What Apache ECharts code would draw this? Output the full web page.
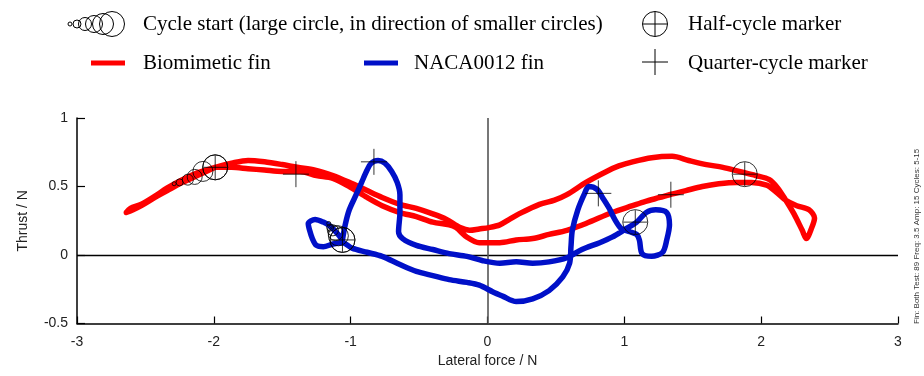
<!DOCTYPE html>
<html><head><meta charset="utf-8">
<script src="https://cdn.jsdelivr.net/npm/echarts@6/dist/echarts.min.js"></script>
<style>html,body{margin:0;padding:0;background:#fff}#c{width:924px;height:376px}</style>
</head><body><div id="c"></div>
<script>
// ---- data ----
const xRange = [-3, 3];
const yRange = [-0.5, 1];
const xStep = 1;
const yStep = 0.5;

const biomimeticFin = [
  [-1.99,0.64],[-2.12,0.58],[-2.23,0.53],[-2.34,0.47],[-2.43,0.42],[-2.53,0.36],[-2.59,0.33],[-2.64,0.31],
  [-2.61,0.34],[-2.53,0.37],[-2.43,0.43],[-2.34,0.49],[-2.23,0.55],[-2.12,0.60],[-1.99,0.64],[-1.87,0.67],
  [-1.75,0.69],[-1.63,0.68],[-1.50,0.66],[-1.39,0.64],[-1.26,0.62],[-1.13,0.58],[-1.01,0.53],[-0.88,0.47],
  [-0.77,0.42],[-0.64,0.37],[-0.52,0.34],[-0.40,0.30],[-0.30,0.26],[-0.20,0.20],[-0.13,0.18],[-0.06,0.19],
  [0.01,0.20],[0.09,0.22],[0.16,0.26],[0.23,0.30],[0.38,0.37],[0.49,0.40],[0.58,0.44],[0.72,0.53],
  [0.87,0.61],[0.96,0.65],[1.06,0.68],[1.20,0.71],[1.35,0.72],[1.47,0.69],[1.60,0.66],[1.72,0.64],
  [1.84,0.61],[1.96,0.58],[2.06,0.55],[2.12,0.49],[2.18,0.40],[2.24,0.30],[2.30,0.18],[2.33,0.12],
  [2.37,0.20],[2.39,0.27],[2.35,0.33],[2.26,0.36],[2.18,0.40],[2.11,0.46],[2.04,0.51],[1.93,0.53],
  [1.82,0.53],[1.69,0.52],[1.57,0.50],[1.45,0.47],[1.33,0.44],[1.26,0.42],[1.15,0.39],[1.06,0.36],
  [0.91,0.31],[0.72,0.23],[0.58,0.18],[0.45,0.15],[0.33,0.12],[0.21,0.11],[0.09,0.09],[-0.06,0.09],
  [-0.15,0.13],[-0.23,0.20],[-0.28,0.22],[-0.40,0.24],[-0.52,0.28],[-0.64,0.31],[-0.77,0.36],[-0.88,0.42],
  [-1.01,0.50],[-1.13,0.56],[-1.25,0.58],[-1.37,0.61],[-1.50,0.61],[-1.63,0.62],[-1.75,0.63],[-1.87,0.64],
  [-1.99,0.64]
];

const naca0012Fin = [
  [-1.06,0.11],[-1.10,0.16],[-1.15,0.21],[-1.20,0.24],[-1.26,0.26],[-1.31,0.23],[-1.30,0.18],[-1.28,0.12],
  [-1.25,0.07],[-1.20,0.06],[-1.13,0.08],[-1.06,0.09],[-0.99,0.05],[-0.88,0.02],[-0.77,-0.01],[-0.64,-0.07],
  [-0.52,-0.12],[-0.40,-0.15],[-0.28,-0.18],[-0.15,-0.20],[-0.06,-0.22],[0.04,-0.27],[0.11,-0.30],[0.21,-0.34],
  [0.33,-0.32],[0.45,-0.26],[0.55,-0.16],[0.60,-0.06],[0.61,0.06],[0.62,0.18],[0.66,0.33],[0.71,0.45],
  [0.74,0.50],[0.80,0.48],[0.84,0.42],[0.89,0.34],[0.93,0.26],[0.98,0.19],[1.04,0.17],[1.09,0.15],
  [1.11,0.11],[1.13,0.01],[1.20,-0.01],[1.28,0.02],[1.31,0.11],[1.33,0.22],[1.31,0.31],[1.23,0.33],
  [1.16,0.31],[1.09,0.24],[1.01,0.19],[0.91,0.13],[0.82,0.09],[0.69,0.04],[0.58,-0.02],[0.45,-0.05],
  [0.33,-0.06],[0.21,-0.05],[0.09,-0.06],[-0.04,-0.04],[-0.15,-0.01],[-0.28,0.01],[-0.40,0.04],[-0.52,0.07],
  [-0.62,0.12],[-0.65,0.17],[-0.64,0.31],[-0.64,0.44],[-0.66,0.53],[-0.70,0.61],[-0.75,0.67],[-0.80,0.69],
  [-0.85,0.67],[-0.88,0.62],[-0.92,0.53],[-0.96,0.44],[-1.01,0.33],[-1.04,0.22],[-1.06,0.11]
];

// cycle start circles, ordered smallest -> largest
const biomimeticStart = [[-2.29,0.52],[-2.25,0.53],[-2.19,0.55],[-2.14,0.57],[-2.08,0.61],[-1.99,0.64]];
const nacaStart = [[-1.16,0.23],[-1.15,0.20],[-1.13,0.18],[-1.11,0.16],[-1.09,0.14],[-1.06,0.11]];

const halfCycle = [[-1.99,0.64],[1.88,0.59],[-1.06,0.11],[1.08,0.24]];
const quarterCycle = [[-1.40,0.59],[1.34,0.44],[-0.83,0.68],[0.81,0.45]];

const seriesNames = ['Biomimetic fin', 'NACA0012 fin'];
const legendTexts = ['Cycle start (large circle, in direction of smaller circles)', 'Half-cycle marker', 'Quarter-cycle marker'];
const xAxisName = 'Lateral force / N';
const yAxisName = 'Thrust / N';
const sideNote = 'Fin: Both Test: 89 Freq: 3.5 Amp: 15 Cycles: 5-15';

// ---- styles ----
const RED = '#ff0000', BLUE = '#0010c8';
const startSizes = [4, 7, 11, 15, 20, 25];
const SANS = '"Liberation Sans", Arial, sans-serif';
const SERIF = '"Liberation Serif", "Times New Roman", serif';
const LEGEND_FONT = '21px ' + SERIF;
const PLUS = 'path://M-1,0L1,0M0,-1L0,1';
const hollow = {color: 'rgba(0,0,0,0)', borderColor: '#000', borderWidth: 1};

const chart = echarts.init(document.getElementById('c'), null, {renderer: 'canvas'});

const legendY1 = 24, legendY2 = 63;
const legendGraphics = [];
// cycle start glyph
[[70,2],[77,4],[85,6.5],[94,8.5],[103,10.5],[112,12.5]].forEach(([cx,r]) => {
  legendGraphics.push({type:'circle', shape:{cx, cy:legendY1, r}, style:{fill:'none', stroke:'#000', lineWidth:1}});
});
legendGraphics.push({type:'text', x:143, y:legendY1, style:{text:legendTexts[0], font:LEGEND_FONT, fill:'#000', verticalAlign:'middle'}});
// half-cycle glyph
legendGraphics.push({type:'circle', shape:{cx:655, cy:legendY1, r:12.5}, style:{fill:'none', stroke:'#000', lineWidth:1}});
legendGraphics.push({type:'line', shape:{x1:643, y1:legendY1, x2:667, y2:legendY1}, style:{stroke:'#000', lineWidth:1}});
legendGraphics.push({type:'line', shape:{x1:655, y1:legendY1-12, x2:655, y2:legendY1+12}, style:{stroke:'#000', lineWidth:1}});
legendGraphics.push({type:'text', x:688, y:legendY1, style:{text:legendTexts[1], font:LEGEND_FONT, fill:'#000', verticalAlign:'middle'}});
// series lines
legendGraphics.push({type:'line', shape:{x1:91, y1:legendY2, x2:125, y2:legendY2}, style:{stroke:RED, lineWidth:5}});
legendGraphics.push({type:'text', x:143, y:legendY2, style:{text:seriesNames[0], font:LEGEND_FONT, fill:'#000', verticalAlign:'middle'}});
legendGraphics.push({type:'line', shape:{x1:364, y1:legendY2, x2:398, y2:legendY2}, style:{stroke:BLUE, lineWidth:5}});
legendGraphics.push({type:'text', x:414, y:legendY2, style:{text:seriesNames[1], font:LEGEND_FONT, fill:'#000', verticalAlign:'middle'}});
// quarter glyph
legendGraphics.push({type:'line', shape:{x1:642, y1:legendY2-1, x2:668, y2:legendY2-1}, style:{stroke:'#000', lineWidth:1}});
legendGraphics.push({type:'line', shape:{x1:655, y1:legendY2-14, x2:655, y2:legendY2+12}, style:{stroke:'#000', lineWidth:1}});
legendGraphics.push({type:'text', x:688, y:legendY2, style:{text:legendTexts[2], font:LEGEND_FONT, fill:'#000', verticalAlign:'middle'}});
// side note
legendGraphics.push({type:'text', x:917, y:324, rotation:Math.PI/2, style:{text:sideNote, font:'8px ' + SANS, fill:'#333', verticalAlign:'middle', align:'left'}});

const option = {
  animation: false,
  backgroundColor: '#fff',
  grid: {left: 77, right: 26, top: 118, bottom: 52.5, containLabel: false, outerBoundsMode: 'none'},
  xAxis: {
    type: 'value', min: xRange[0], max: xRange[1], interval: xStep,
    name: xAxisName, nameLocation: 'middle', nameGap: 29,
    nameTextStyle: {fontFamily: SANS, fontSize: 14, color: '#222'},
    axisLine: {show: true, onZero: false, lineStyle: {color: '#000', width: 1.5}},
    axisTick: {show: true, inside: true, length: 7, lineStyle: {color: '#000', width: 1.2}},
    axisLabel: {fontFamily: SANS, fontSize: 14, color: '#222', margin: 12},
    splitLine: {show: false}
  },
  yAxis: {
    type: 'value', min: yRange[0], max: yRange[1], interval: yStep,
    name: yAxisName, nameLocation: 'middle', nameGap: 47, nameRotate: 90,
    nameTextStyle: {fontFamily: SANS, fontSize: 14, color: '#222'},
    axisLine: {show: true, onZero: false, lineStyle: {color: '#000', width: 1.5}},
    axisTick: {show: true, inside: true, length: 8, lineStyle: {color: '#000', width: 1.2}},
    axisLabel: {fontFamily: SANS, fontSize: 14, color: '#222', margin: 9},
    splitLine: {show: false}
  },
  graphic: legendGraphics,
  series: [
    {
      type: 'line', data: [], silent: true, z: 1,
      markLine: {
        silent: true, symbol: 'none', z: 1, animation: false,
        label: {show: false},
        data: [
          {yAxis: 0, lineStyle: {color: '#000', width: 1.3, type: 'solid'}},
          {xAxis: 0, lineStyle: {color: '#555', width: 1.6, type: 'solid'}}
        ]
      }
    },
    {name: seriesNames[0], type: 'line', data: biomimeticFin, showSymbol: false, smooth: 0.3, z: 3, silent: true,
      lineStyle: {color: RED, width: 5.5, cap: 'round', join: 'round'}},
    {name: seriesNames[1], type: 'line', data: naca0012Fin, showSymbol: false, smooth: 0.3, z: 3, silent: true,
      lineStyle: {color: BLUE, width: 5.5, cap: 'round', join: 'round'}},
    {type: 'scatter', data: biomimeticStart, symbol: 'circle', symbolSize: (v, p) => startSizes[p.dataIndex], z: 5, silent: true, itemStyle: hollow},
    {type: 'scatter', data: nacaStart, symbol: 'circle', symbolSize: (v, p) => startSizes[p.dataIndex], z: 5, silent: true, itemStyle: hollow},
    {type: 'scatter', data: halfCycle, symbol: 'circle', symbolSize: 25, z: 5, silent: true, itemStyle: hollow},
    {type: 'scatter', data: halfCycle, symbol: PLUS, symbolSize: 24, z: 5, silent: true, itemStyle: hollow},
    {type: 'scatter', data: quarterCycle, symbol: PLUS, symbolSize: 26, z: 5, silent: true, itemStyle: hollow}
  ]
};
chart.setOption(option);
</script></body></html>
